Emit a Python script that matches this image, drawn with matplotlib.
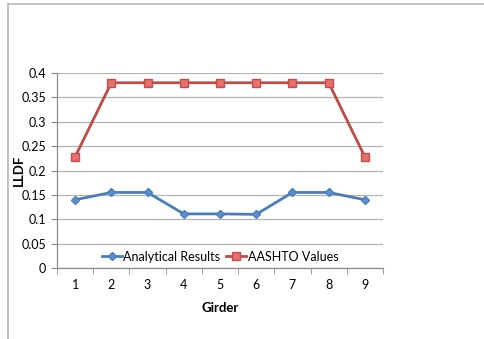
import matplotlib.pyplot as plt
from matplotlib.lines import Line2D
from matplotlib.ticker import FixedLocator, NullFormatter

plt.rcParams['font.family'] = ['Lato', 'DejaVu Sans']

girders = [1, 2, 3, 4, 5, 6, 7, 8, 9]
analytical = [0.140, 0.155, 0.155, 0.111, 0.111, 0.110, 0.155, 0.155, 0.140]
aashto = [0.228, 0.380, 0.380, 0.380, 0.380, 0.380, 0.380, 0.380, 0.228]
yticks = [0, 0.05, 0.1, 0.15, 0.2, 0.25, 0.3, 0.35, 0.4]
ytick_labels = ['0', '0.05', '0.1', '0.15', '0.2', '0.25', '0.3', '0.35', '0.4']

fig = plt.figure(figsize=(4.85, 3.39), dpi=100)
ax = fig.add_axes([57/485, 71/339, 326/485, 195/339])

# frame lines around the sheet
fig.add_artist(Line2D([8/485, 1], [1 - 4/339, 1 - 4/339], color='#b8b8b8', lw=1.2))
fig.add_artist(Line2D([8/485, 8/485], [0, 1 - 4/339], color='#b8b8b8', lw=1.2))

ax.plot(girders, analytical, color='#4a7ebb', lw=2.0, marker='D', ms=4.5,
        mfc='#5b8fd0', mec='#4a7ebb', label='Analytical Results', zorder=3)
ax.plot(girders, aashto, color='#be4b48', lw=2.0, marker='s', ms=5.5,
        mfc='#e8706c', mec='#c0504d', label='AASHTO Values', zorder=3)

ax.set_xlim(0.5, 9.5)
ax.set_ylim(0, 0.4)
ax.set_yticks(yticks)
ax.set_yticklabels(ytick_labels)
ax.set_xticks(girders)
ax.xaxis.set_minor_locator(FixedLocator([x + 0.5 for x in range(0, 10)]))
ax.xaxis.set_minor_formatter(NullFormatter())
ax.tick_params(axis='x', which='major', length=0, labelsize=9, pad=8)
ax.tick_params(axis='x', which='minor', length=4, color='#8c8c8c', direction='out')
ax.tick_params(axis='y', length=4, color='#8c8c8c', labelsize=9, pad=4)

ax.grid(axis='y', color='#b3b3b3', lw=0.9)
ax.set_axisbelow(True)
for s in ['top', 'right']:
    ax.spines[s].set_visible(False)
for s in ['left', 'bottom']:
    ax.spines[s].set_color('#8c8c8c')
    ax.spines[s].set_linewidth(0.9)

ax.set_xlabel('Girder', fontsize=9.5, fontweight='bold')
ax.xaxis.set_label_coords(0.5, -0.175)
ax.set_ylabel('LLDF', fontsize=9.5, fontweight='bold')
ax.yaxis.set_label_coords(-0.098, 0.5)

ax.legend(loc='lower center', bbox_to_anchor=(0.5, -0.03), ncol=2, frameon=False,
          fontsize=9, handlelength=1.6, handletextpad=0.1, columnspacing=0.5)

fig.savefig('out.png', dpi=100)
